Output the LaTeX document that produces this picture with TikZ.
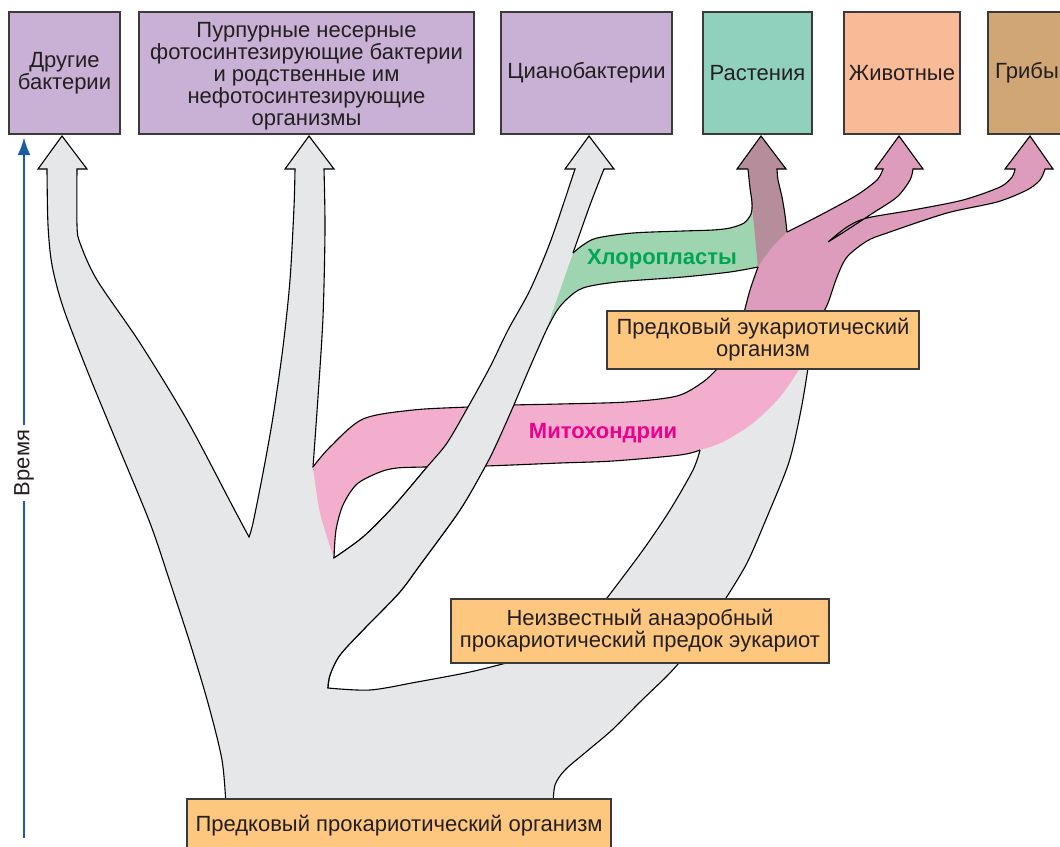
\documentclass[tikz,border=0pt]{standalone}
\usepackage{fontspec}
\setmainfont{Liberation Sans}
\usetikzlibrary{arrows.meta,positioning}

\definecolor{grayFill}{HTML}{E6E7E8}
\definecolor{mitoPink}{HTML}{F4AECD}
\definecolor{eukPink}{HTML}{DE9CBC}
\definecolor{plantMauve}{HTML}{B68E9B}
\definecolor{chloroGreen}{HTML}{9ED4B0}
\definecolor{bactViolet}{HTML}{C9B1D6}
\definecolor{plantBox}{HTML}{90D1BD}
\definecolor{animalBox}{HTML}{F9BB97}
\definecolor{fungiBox}{HTML}{CFA674}
\definecolor{ancOrange}{HTML}{FDC77F}
\definecolor{chloroText}{HTML}{00A651}
\definecolor{mitoText}{HTML}{EC008C}
\definecolor{timeBlue}{HTML}{1E5BA6}
\definecolor{boxLine}{HTML}{3A3A3A}
\definecolor{ink}{HTML}{231F20}

\begin{document}
\begin{tikzpicture}[x=1pt,y=-1pt]
			\tikzstyle{Box}		= [draw=boxLine, line width=1.2pt, align=center, inner sep=0pt, text=ink, font={\fontsize{22}{22}\selectfont}]
			\tikzstyle{Top}		= [Box, minimum height=122pt]
			\tikzstyle{Ancestor}	= [Box, fill=ancOrange]
			\tikzstyle{Edge}	= [draw=black, line width=1.1pt]
			\tikzstyle{Tag}		= [font={\bfseries\fontsize{22}{22}\selectfont}]
			\tikzstyle{TimeLine}	= [draw=timeBlue, line width=2.8pt]

			\def\mitoTop{-- plot[smooth] coordinates {(313,467) (330,447) (363,419) (413,410) (468,407) (513,405) (560,404) (627,402) (677,396) (703,382) (717,369)}}
			\def\mitoBot{-- plot[smooth] coordinates {(700,450) (680,455) (613,461) (560,463) (485,466) (425,467) (397,468) (380,472) (357,484) (343,505) (336,530) (334,558)}}
			\def\cyanoLeft{-- plot[smooth] coordinates {(334,558) (363,537) (393,507) (427,467) (447,443) (468,407) (490,367) (508,330) (530,290) (551,240) (575,169)}}
			\def\cyanoRightA{-- plot[smooth] coordinates {(604,169) (590,205) (573,253)}}
			\def\cyanoRightB{-- plot[smooth] coordinates {(545,333) (530,367) (513,407) (497,443) (485,467) (460,510) (420,565) (399,593) (365,628) (340,655) (330,675) (328,688)}}
			\def\plantLeft{-- plot[smooth] coordinates {(748,169) (750,188) (752,203) (751,214) (744,223) (730,228) (713,230) (683,231) (633,233) (597,238) (583,245) (573,253)}}
			\def\plantRight{-- plot[smooth] coordinates {(777,169) (778,180) (782,197) (785,215) (787,232)}}
			\def\chloroBot{-- plot[smooth] coordinates {(545,333) (556,312) (567,299) (583,288) (617,282) (683,277) (730,272) (758,267)}}
			\def\eukLeft{-- plot[smooth] coordinates {(744,313) (750,290) (758,267)}}
			\def\animalLeft{-- plot[smooth] coordinates {(787,232) (807,222) (830,210) (857,195) (877,180) (883,169)}}
			\def\animalRight{-- plot[smooth] coordinates {(913,169) (910,180) (897,197) (873,213) (847,230) (828,242)}}
			\def\fungiTop{-- plot[smooth] coordinates {(828,242) (847,227) (867,218) (913,210) (963,200) (1000,187) (1012,177) (1015,169)}}
			\def\fungiBot{-- plot[smooth] coordinates {(1045,169) (1040,180) (1027,190) (997,202) (947,213) (887,233) (867,241) (847,257) (837,277) (828,303) (823,313)}}

			\useasboundingbox (0,0) rectangle (1060,846);

			\filldraw[fill=grayFill, Edge]
				plot[smooth] coordinates {(226,806) (222,760) (208,703) (190,643) (170,582) (150,523) (117,443) (87,370) (63,307) (52,265) (48,225) (47,169)}
				-- (38,169) -- (62,136) -- (87,169) -- (77,169)
				-- plot[smooth] coordinates {(77,169) (77,225) (80,243) (97,280) (140,343) (187,420) (233,507) (249,537)}
				-- plot[smooth] coordinates {(249,537) (253,523) (263,473) (273,417) (283,347) (290,280) (294,207) (295,169)}
				-- (285,169) -- (309,136) -- (334,169) -- (324,169)
				-- plot[smooth] coordinates {(324,169) (325,230) (323,317) (318,397) (313,467)}
				-- (326,500) -- (333,545) -- (334,558)
				-- plot[smooth] coordinates {(334,558) (363,537) (393,507) (427,467)}
				-- (485,466)
				-- plot[smooth] coordinates {(485,466) (460,510) (420,565) (399,593) (365,628) (340,655) (330,675) (328,688)}
				-- plot[smooth] coordinates {(328,688) (370,690) (417,682) (470,672) (510,662)}
				-- (607,598)
				-- plot[smooth] coordinates {(607,598) (643,550) (670,510) (693,470) (700,450)}
				-- (703,440) -- (725,385) -- (725,360) -- (808,360) -- (808,368)
				-- plot[smooth] coordinates {(808,368) (801,410) (789,462) (767,517) (747,563) (726,598)}
				-- (679,663)
				-- plot[smooth] coordinates {(679,663) (666,677) (640,702) (612,730) (586,752) (565,770) (555,785) (553,806)}
				-- cycle;

			\fill[mitoPink] (313,467) \mitoTop -- (717,360) -- (800,360) -- (800,368)
				-- plot[smooth] coordinates {(800,368) (780,397) (753,423) (723,442) (700,450)} \mitoBot
				-- plot[smooth] coordinates {(334,558) (320,513) (313,467)} -- cycle;
			\draw[Edge] (313,467) \mitoTop;
			\draw[Edge] (700,450) \mitoBot;

			\fill[chloroGreen] (748,169) \plantLeft -- (560,252) -- (540,330) -- (545,333) \chloroBot -- (770,272) -- (770,175) -- cycle;

			\fill[grayFill] (334,558) \cyanoLeft -- (565,169) -- (589,136) -- (614,169) -- (604,169) \cyanoRightA \cyanoRightB -- cycle;
			\draw[Edge] (334,558) \cyanoLeft -- (565,169) -- (589,136) -- (614,169) -- (604,169) \cyanoRightA;
			\draw[Edge] (545,333) \cyanoRightB;

			\fill[plantMauve] (748,169) -- (737,169) -- (761,136) -- (786,169) -- (777,169) \plantRight -- (792,262) -- (758,268) -- (752,205) -- (750,188) -- cycle;
			\fill[eukPink] (744,325) -- (744,313) \eukLeft -- plot[smooth] coordinates {(758,267) (770,250) (787,232)} \animalLeft
				-- (875,169) -- (899,136) -- (923,169) -- (913,169) \animalRight \fungiTop
				-- (1005,169) -- (1030,136) -- (1053,169) -- (1045,169) \fungiBot -- (823,325) -- cycle;

			\draw[Edge] (545,333) \chloroBot;
			\draw[Edge] (748,169) \plantLeft;
			\draw[Edge] (748,169) -- (737,169) -- (761,136) -- (786,169) -- (777,169) \plantRight;
			\draw[Edge] (744,313) \eukLeft;
			\draw[Edge] (787,232) \animalLeft -- (875,169) -- (899,136) -- (923,169) -- (913,169) \animalRight \fungiTop
				-- (1005,169) -- (1030,136) -- (1053,169) -- (1045,169) \fungiBot;

			\node[Tag, text=chloroText] (chloroLabel) at (662,259) {Хлоропласты};
			\node[Tag, text=mitoText] (mitoLabel) at (603,433) {Митохондрии};

			\node[Top, fill=bactViolet, minimum width=111pt] (others) at (64.5,73) {Другие\\бактерии};
			\node[Top, fill=bactViolet, minimum width=335pt] (purple) at (306.5,73) {\rule{0pt}{22pt}Пурпурные несерные\\фотосинтезирующие бактерии\\и родственные им\\нефотосинтезирующие\\организмы};
			\node[Top, fill=bactViolet, minimum width=171pt] (cyano) at (586.5,73) {Цианобактерии};
			\node[Top, fill=plantBox, minimum width=109pt] (plants) at (757.5,73) {Растения};
			\node[Top, fill=animalBox, minimum width=116pt] (animals) at (902,73) {Животные};
			\node[Top, fill=fungiBox, minimum width=78pt] (fungi) at (1027,73) {Грибы};

			\node[Ancestor, minimum width=312pt, minimum height=58pt] (eukAnc) at (763,340) {Предковый эукариотический\\организм};
			\node[Ancestor, minimum width=378pt, minimum height=64pt] (anaerobe) at (640,631) {Неизвестный анаэробный\\прокариотический предок эукариот};
			\node[Ancestor, minimum width=424pt, minimum height=54pt] (prokAnc) at (399,826) {Предковый прокариотический организм};

			\node[rotate=90, inner sep=5pt, text=ink, font={\fontsize{22}{22}\selectfont}] (time) at (24,463) {Время};
			\draw[TimeLine] (24,838) -- (time.west);
			\draw[TimeLine, -{Latex[length=18pt,width=13pt]}] (time.east) -- (24,137);
\end{tikzpicture}
\end{document}
